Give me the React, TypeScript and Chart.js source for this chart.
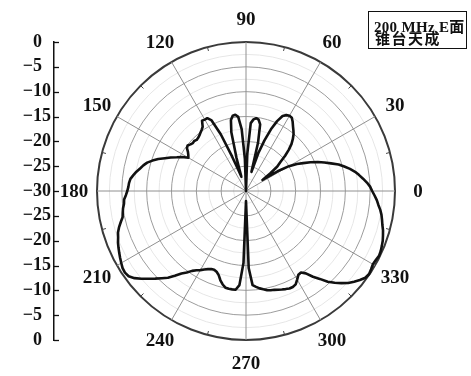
import { useEffect, useRef } from 'react';
import { Chart, registerables } from 'chart.js';

Chart.register(...registerables);

const W = 471;
const H = 376;

// Sample spacing of the measured pattern, degrees
const ANGLE_STEP = 2;

// Normalised gain (dB), counter-clockwise from 0°, one value every 2°
const gainQ1 = [
  -4.6, -5.0, -5.6, -6.3, -7.0, -7.7, -8.6, -9.6, -10.6, -12.0,
  -13.2, -14.4, -15.8, -17.2, -18.4, -20.0, -22.5, -26.0, -24.0, -22.0,
  -21.0, -19.4, -18.0, -16.8, -15.9, -15.1, -14.5, -13.9, -13.2, -12.6,
  -12.5, -12.7, -13.2, -14.6, -16.6, -19.2, -22.0, -26.0, -20.0, -16.3,
  -15.4, -15.2, -15.5, -16.3, -22.5,
]; // 0° … 88°
const gainQ2 = [
  -30.0, -23.5, -17.5, -15.0, -14.5, -14.6, -15.4, -17.8, -23.0, -27.0,
  -25.5, -22.5, -17.5, -14.2, -13.4, -13.4, -13.3, -14.4, -14.8, -15.1,
  -15.4, -15.6, -15.7, -15.5, -15.6, -15.4, -15.1, -15.3, -15.9, -16.3,
  -16.6, -15.4, -14.5, -13.4, -12.4, -11.2, -10.2, -9.3, -8.7, -8.2,
  -7.6, -7.1, -6.6, -6.4, -6.3,
]; // 90° … 178°
const gainQ3 = [
  -6.1, -5.8, -5.4, -5.3, -5.0, -4.8, -4.6, -4.0, -3.4, -2.9,
  -2.6, -2.2, -1.9, -1.6, -1.3, -1.0, -0.7, -0.6, -0.8, -1.5,
  -2.5, -3.6, -4.6, -5.6, -6.5, -7.7, -8.9, -9.7, -10.6, -11.2,
  -11.6, -12.1, -12.5, -12.8, -12.9, -12.7, -12.2, -11.3, -10.6, -10.1,
  -10.0, -10.0, -10.0, -11.0, -15.5,
]; // 180° … 268°
const gainQ4 = [
  -28.0, -14.5, -11.0, -10.6, -10.2, -9.9, -9.6, -9.4, -9.3, -9.1,
  -8.9, -8.7, -8.5, -8.5, -8.7, -9.4, -10.1, -10.2, -9.5, -8.1,
  -6.9, -5.4, -4.3, -3.3, -2.3, -1.6, -0.9, -0.3, -0.1, -0.3,
  -0.5, -0.4, -0.2, -0.3, -0.5, -0.7, -1.0, -1.3, -1.7, -2.0,
  -2.3, -2.7, -3.2, -3.6, -4.1,
]; // 270° … 358°

// Angle labels around the rim
const angleLabels = [0, 30, 60, 90, 120, 150, 180, 210, 240, 270, 300, 330];

// Radial range (dB) and ring spacing
const DB_MIN = -30;
const DB_MAX = 0;
const DB_STEP = 5;

const legendLines = ['200 MHz E面', '锥台天成'];

const SERIF = '"Liberation Serif", "Times New Roman", "Noto Sans CJK SC", serif';

export default function App() {
  const canvasRef = useRef<HTMLCanvasElement>(null);

  useEffect(() => {
    const canvas = canvasRef.current;
    if (!canvas) return;

    const gainDb = [...gainQ1, ...gainQ2, ...gainQ3, ...gainQ4];
    const n = gainDb.length;
    const sampleAngles = gainDb.map((_, i) => i * ANGLE_STEP);
    // The radial scale runs clockwise from its start angle; walk the
    // samples backwards so the pattern reads counter-clockwise.
    const order = gainDb.map((_, k) => (n - k) % n);
    const radarLabels = order.map((i) => sampleAngles[i]);
    const radarValues = order.map((i) => gainDb[i]);

    const polarDecor = {
      id: 'polarDecor',
      afterDraw(chart: any) {
        const ctx = chart.ctx as CanvasRenderingContext2D;
        const r = chart.scales.r;
        const y = chart.scales.y;
        const cx = r.xCenter;
        const cy = r.yCenter;
        const R = r.drawingArea;
        ctx.save();

        // short marks on the rim half way between the spokes
        ctx.strokeStyle = '#444';
        ctx.lineWidth = 1;
        for (let a = 15; a < 360; a += 30) {
          const t = (a * Math.PI) / 180;
          ctx.beginPath();
          ctx.moveTo(cx + R * Math.cos(t), cy - R * Math.sin(t));
          ctx.lineTo(cx + (R - 4) * Math.cos(t), cy - (R - 4) * Math.sin(t));
          ctx.stroke();
        }

        // angle labels
        ctx.font = 'bold 19px ' + SERIF;
        ctx.fillStyle = '#111';
        ctx.textAlign = 'center';
        ctx.textBaseline = 'middle';
        angleLabels.forEach((deg) => {
          const idx = radarLabels.indexOf(deg);
          const p = r.getPointPosition(idx, R + 23);
          ctx.fillText(String(deg), p.x, p.y + 1);
        });

        // inward ticks on the dB axis
        ctx.strokeStyle = '#111';
        ctx.lineWidth = 1.3;
        y.ticks.forEach((tk: any) => {
          const py = Math.round(y.getPixelForValue(tk.value)) + 0.5;
          ctx.beginPath();
          ctx.moveTo(y.right, py);
          ctx.lineTo(y.right + 5, py);
          ctx.stroke();
        });

        // caption box
        ctx.strokeStyle = '#111';
        ctx.lineWidth = 1;
        ctx.strokeRect(368.5, 11.5, 98, 37);
        ctx.textAlign = 'left';
        ctx.textBaseline = 'alphabetic';
        ctx.font = 'bold 15px ' + SERIF;
        (ctx as any).letterSpacing = '0.3px';
        ctx.fillText(legendLines[0], 374, 31.5);
        ctx.font = 'bold 15px "Noto Sans CJK SC", ' + SERIF;
        (ctx as any).letterSpacing = '1.5px';
        ctx.fillText(legendLines[1], 375, 44);
        (ctx as any).letterSpacing = '0px';

        ctx.restore();
      },
    };

    const chart = new Chart(canvas, {
      type: 'radar',
      data: {
        labels: radarLabels,
        datasets: [
          {
            data: radarValues,
            borderColor: '#111',
            borderWidth: 2.6,
            backgroundColor: 'transparent',
            fill: false,
            tension: 0,
            pointRadius: 0,
            pointHoverRadius: 0,
            borderJoinStyle: 'round',
          },
        ],
      },
      options: {
        responsive: false,
        animation: false,
        events: [],
        layout: { padding: { top: 42, bottom: 36, left: 7, right: 33 } },
        plugins: {
          legend: { display: false },
          tooltip: { enabled: false },
        },
        scales: {
          r: {
            min: DB_MIN,
            max: DB_MAX,
            startAngle: 90,
            ticks: { display: false, stepSize: DB_STEP / 2 },
            pointLabels: { display: false },
            grid: {
              circular: true,
              color: (c: any) =>
                c.tick.value === DB_MAX
                  ? '#3a3a3a'
                  : c.tick.value % DB_STEP === 0
                  ? '#9c9c9c'
                  : '#e6e6e6',
              lineWidth: (c: any) => (c.tick.value === DB_MAX ? 2 : 1),
            },
            angleLines: {
              color: '#909090',
              lineWidth: (c: any) => (Number(c.label) % 30 === 0 ? 1 : 0),
            },
          },
          y: {
            type: 'linear',
            position: 'left',
            min: DB_MIN,
            max: -DB_MIN,
            afterFit: (s: any) => {
              s.width = 47;
            },
            grid: { drawOnChartArea: false, drawTicks: false },
            border: { color: '#111', width: 1.5 },
            ticks: {
              stepSize: DB_STEP,
              autoSkip: false,
              padding: 3,
              color: '#111',
              font: { family: SERIF, size: 18, weight: 'bold' },
              callback: (v: any) => {
                const d = Math.abs(Number(v)) + DB_MIN;
                const s = d === 0 ? '0' : '\u2212' + Math.abs(d);
                return s.length < 3 ? s + '  ' : s;
              },
            },
          },
        },
      },
      plugins: [polarDecor],
    } as any);

    return () => chart.destroy();
  }, []);

  return (
    <div style={{ position: 'absolute', left: 0, top: 0, width: W, height: H, background: '#fff' }}>
      <canvas ref={canvasRef} width={W} height={H} style={{ display: 'block' }} />
    </div>
  );
}
